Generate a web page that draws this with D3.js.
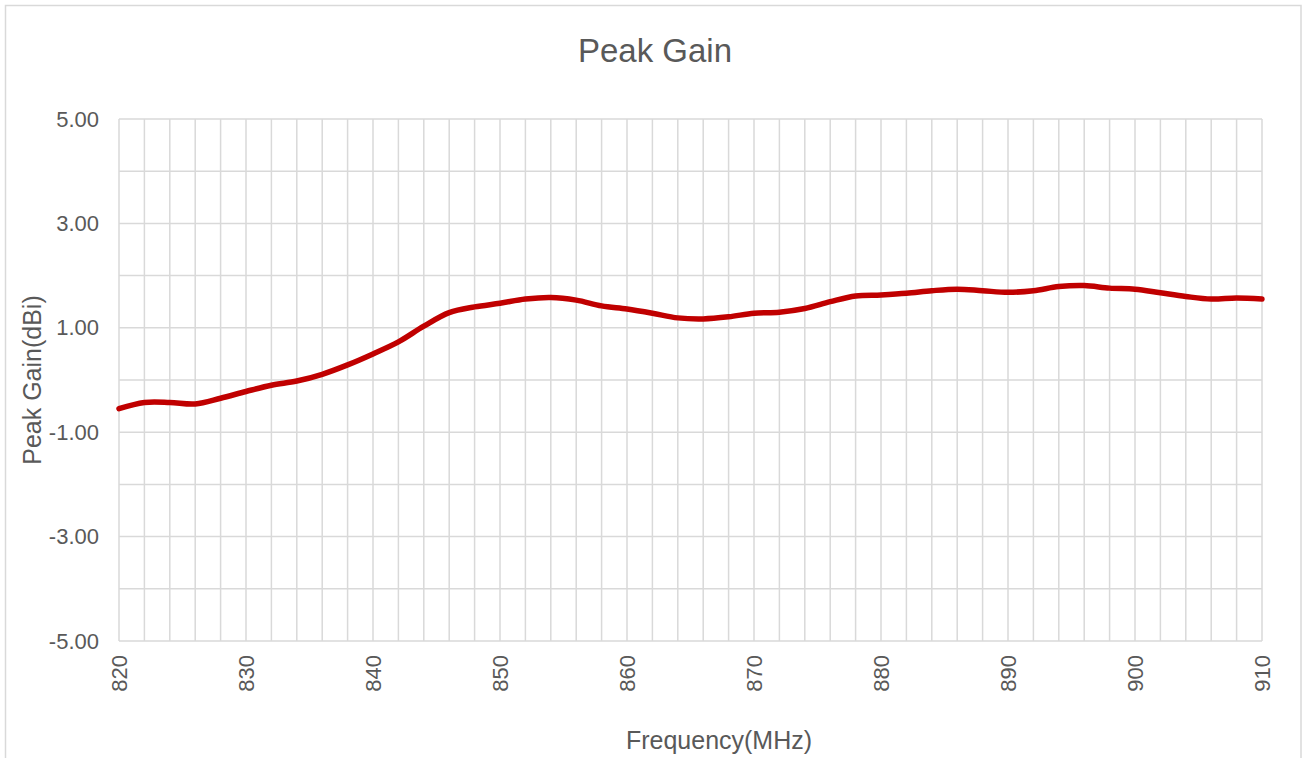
<!DOCTYPE html>
<html>
<head>
<meta charset="utf-8">
<script src="https://cdn.jsdelivr.net/npm/d3@7"></script>
<style>
  html, body { margin: 0; padding: 0; background: #fff; }
  svg { display: block; }
  text { font-family: "Liberation Sans", Arial, sans-serif; fill: #595959; }
</style>
</head>
<body>
<svg id="chart" width="1307" height="758"></svg>
<script>
// ---- data ----
const frequencies = [820,822,824,826,828,830,832,834,836,838,840,842,844,846,848,850,852,854,856,858,860,862,864,866,868,870,872,874,876,878,880,882,884,886,888,890,892,894,896,898,900,902,904,906,908,910];
const peakGain = [-0.55,-0.43,-0.43,-0.46,-0.35,-0.22,-0.10,-0.02,0.11,0.29,0.50,0.73,1.03,1.29,1.40,1.47,1.55,1.58,1.53,1.42,1.36,1.28,1.19,1.17,1.21,1.28,1.30,1.37,1.50,1.61,1.63,1.66,1.71,1.74,1.71,1.68,1.71,1.79,1.81,1.76,1.74,1.67,1.60,1.55,1.57,1.55];
const xTickValues = [820,830,840,850,860,870,880,890,900,910];
const yTickValues = [5,3,1,-1,-3,-5];
const chartTitle = "Peak Gain";
const xTitle = "Frequency(MHz)";
const yTitle = "Peak Gain(dBi)";

(function () {
// ---- layout ----
const W = 1307, H = 758;
const pLeft = 119, pRight = 1262, pTop = 119, pBottom = 641;
const svg = d3.select("#chart");

// outer border
svg.append("rect")
  .attr("x", 5.5).attr("y", 5.5)
  .attr("width", W - 5 - 5.5 - 1).attr("height", H + 20)
  .attr("fill", "#fff").attr("stroke", "#d9d9d9").attr("stroke-width", 1.5);

const x = d3.scaleLinear().domain([820, 910]).range([pLeft, pRight]);
const y = d3.scaleLinear().domain([-5, 5]).range([pBottom, pTop]);

// gridlines
const grid = svg.append("g");
grid.selectAll("line.v").data(d3.range(820, 911, 2)).join("line")
  .attr("class", "v")
  .attr("x1", d => x(d)).attr("x2", d => x(d))
  .attr("y1", pTop).attr("y2", pBottom)
  .attr("stroke", "#d9d9d9").attr("stroke-width", 1.5);
grid.selectAll("line.h").data(d3.range(-5, 6, 1)).join("line")
  .attr("class", "h")
  .attr("x1", pLeft).attr("x2", pRight)
  .attr("y1", d => y(d)).attr("y2", d => y(d))
  .attr("stroke", "#d9d9d9").attr("stroke-width", 1.5);

// y axis labels (ASCII hyphen as in the reference)
const fmtY = d => d.toFixed(2);
const yAxis = d3.axisLeft(y).tickValues(yTickValues).tickFormat(fmtY).tickSize(0).tickPadding(20);
const gy = svg.append("g").attr("transform", `translate(${pLeft},0)`).call(yAxis);
gy.select(".domain").remove();
gy.selectAll("text").attr("font-size", 22).style("fill", "#595959")
  .attr("font-family", "'Liberation Sans', Arial, sans-serif");

// x axis labels (rotated)
const xAxis = d3.axisBottom(x).tickValues(xTickValues).tickFormat(d3.format("d")).tickSize(0);
const gx = svg.append("g").attr("transform", `translate(0,${pBottom})`).call(xAxis);
gx.select(".domain").remove();
gx.selectAll("text")
  .attr("font-size", 22).style("fill", "#595959")
  .attr("font-family", "'Liberation Sans', Arial, sans-serif")
  .attr("text-anchor", "end")
  .attr("transform", "rotate(-90)")
  .attr("x", -14).attr("y", 0).attr("dy", "0.35em");

// series line
const line = d3.line()
  .x((d, i) => x(frequencies[i]))
  .y(d => y(d))
  .curve(d3.curveCatmullRom.alpha(0.5));
svg.append("path")
  .datum(peakGain)
  .attr("d", line)
  .attr("fill", "none")
  .attr("stroke", "#c00000")
  .attr("stroke-width", 5.5)
  .attr("stroke-linejoin", "round")
  .attr("stroke-linecap", "round");

// titles
svg.append("text")
  .attr("x", 655).attr("y", 62)
  .attr("text-anchor", "middle").attr("font-size", 33)
  .text(chartTitle);
svg.append("text")
  .attr("x", 719).attr("y", 749)
  .attr("text-anchor", "middle").attr("font-size", 25)
  .text(xTitle);
svg.append("text")
  .attr("transform", "translate(41,380) rotate(-90)")
  .attr("text-anchor", "middle").attr("font-size", 25)
  .text(yTitle);
})();
</script>
</body>
</html>
